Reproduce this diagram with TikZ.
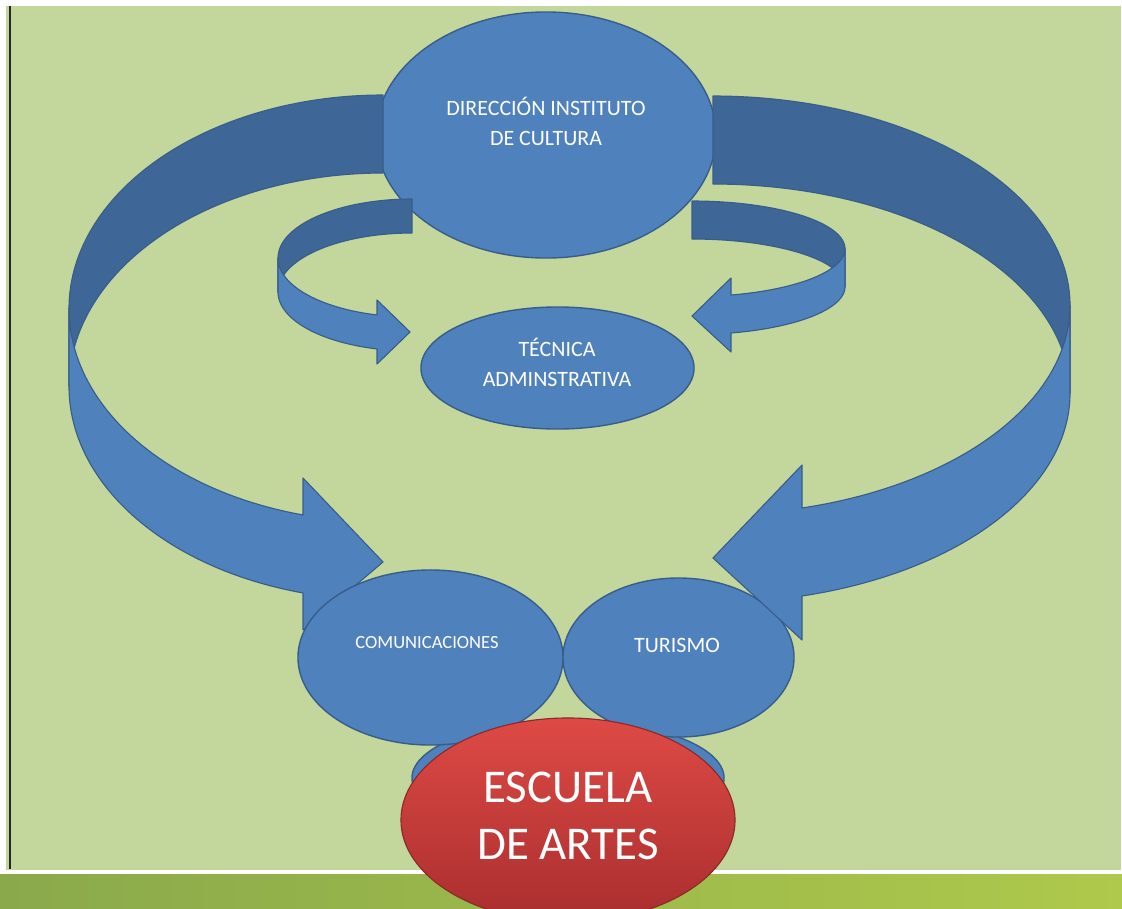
\documentclass[tikz,border=0pt]{standalone}
\usepackage{fontspec}
\setmainfont{Carlito}
\usetikzlibrary{shapes.geometric}

\definecolor{panelgreen}{HTML}{C3D69B}
\definecolor{bandleft}{HTML}{8AA94B}
\definecolor{bandright}{HTML}{AEC94B}
\definecolor{bluefill}{HTML}{4F81BD}
\definecolor{bluedark}{HTML}{3E6697}
\definecolor{blueline}{HTML}{385D8A}
\definecolor{redtop}{HTML}{DE4A45}
\definecolor{redbottom}{HTML}{A92E2E}
\definecolor{redline}{HTML}{8A2A2A}

\begin{document}
\begin{tikzpicture}[x=0.025cm, y=-0.025cm,
    blob/.style={ellipse, draw=blueline, line width=1pt, fill=bluefill, inner sep=0pt},
    lbl/.style={text=white, align=center, font=\fontsize{15.6}{21.3}\selectfont},
    backface/.style={fill=bluedark, draw=blueline, line width=0.8pt, line join=round},
    frontface/.style={fill=bluefill, draw=blueline, line width=0.8pt, line join=round}]
  \useasboundingbox (0,0) rectangle (1122,908);

  % page, panel, footer band
  \fill[white] (0,0) rectangle (1122,908);
  \fill[panelgreen] (6,6) rectangle (1121,870);
  \fill[left color=bandleft, right color=bandright] (0,874) rectangle (1122,908);
  \draw[line width=1.2pt, black!85] (10,6) -- (10,869);

  % top ellipse
  \node[blob, minimum width=8.5cm, minimum height=6.15cm] (dir) at (546,135) {};
  \node[lbl] (dirlbl) at (546,121) {DIRECCIÓN INSTITUTO\\DE CULTURA};

  % small arrows to the middle ellipse
  \draw[backface] plot[domain=270:180, samples=50] ({412+134*cos(\x)},{258+59*sin(\x)})
    -- plot[domain=180:270, samples=50] ({412+134*cos(\x)},{292+59*sin(\x)}) -- cycle;
  \draw[frontface] plot[domain=180:105.14, samples=50] ({412+134*cos(\x)},{258+59*sin(\x)})
    -- (377,300) -- (410,332) -- (377,364)
    -- plot[domain=105.14:180, samples=50] ({412+134*cos(\x)},{292+59*sin(\x)}) -- cycle;

  \draw[backface] plot[domain=270:360, samples=50] ({692+153*cos(\x)},{248.8+47.8*sin(\x)})
    -- plot[domain=360:270, samples=50] ({692+153*cos(\x)},{286.8+47.8*sin(\x)}) -- cycle;
  \draw[frontface] plot[domain=0:75.23, samples=50] ({692+153*cos(\x)},{248.8+47.8*sin(\x)})
    -- (731,278) -- (692,316) -- (731,352)
    -- plot[domain=75.23:0, samples=50] ({692+153*cos(\x)},{286.8+47.8*sin(\x)}) -- cycle;

  % big arrow, left side
  \draw[backface] plot[domain=270:180, samples=80] ({383+314*cos(\x)},{308.5+213.5*sin(\x)})
    -- plot[domain=180:270, samples=80] ({383+314*cos(\x)},{386.5+213.5*sin(\x)}) -- cycle;
  \draw[frontface] plot[domain=180:104.76, samples=80] ({383+314*cos(\x)},{308.5+213.5*sin(\x)})
    -- (303,478) -- (383,562) -- (303,630)
    -- plot[domain=104.76:180, samples=80] ({383+314*cos(\x)},{386.5+213.5*sin(\x)}) -- cycle;

  % middle ellipse
  \node[blob, minimum width=6.825cm, minimum height=3.05cm] (tec) at (557.5,368) {};
  \node[lbl] (teclbl) at (557,362) {TÉCNICA\\ADMINSTRATIVA};

  % bottom row
  \node[blob, minimum width=7.8cm, minimum height=2.9cm] (under) at (568,778) {};
  \node[blob, minimum width=6.625cm, minimum height=4.375cm] (com) at (430.5,657.5) {};
  \node[lbl, font=\fontsize{13.2}{16}\selectfont] (comlbl) at (427,643) {COMUNICACIONES};
  \node[blob, minimum width=5.775cm, minimum height=3.975cm] (tur) at (678.5,657.5) {};
  \node[lbl] (turlbl) at (677,645) {TURISMO};

  % big arrow, right side
  \draw[backface] plot[domain=270:360, samples=80] ({713+357*cos(\x)},{305.3+209.3*sin(\x)})
    -- plot[domain=360:270, samples=80] ({713+357*cos(\x)},{393.3+209.3*sin(\x)}) -- cycle;
  \draw[frontface] plot[domain=0:75.56, samples=80] ({713+357*cos(\x)},{305.3+209.3*sin(\x)})
    -- (802,465) -- (713,558) -- (802,640)
    -- plot[domain=75.56:0, samples=80] ({713+357*cos(\x)},{393.3+209.3*sin(\x)}) -- cycle;

  % school
  \node[ellipse, inner sep=0pt, minimum width=8.35cm, minimum height=5.1cm,
        top color=redtop, bottom color=redbottom, draw=redline, line width=0.8pt] (esc) at (568,820) {};
  \node[lbl, font=\fontsize{33.4}{40.3}\selectfont] (esclbl) at (568,816) {ESCUELA\\DE ARTES};
\end{tikzpicture}
\end{document}
